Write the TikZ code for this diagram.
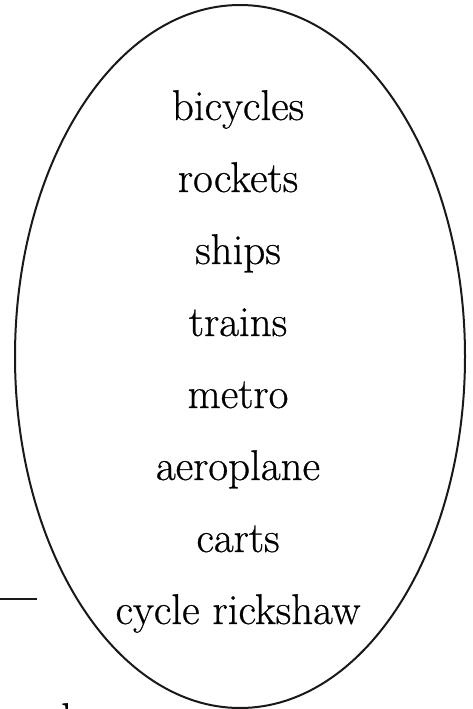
\documentclass[tikz,border=0pt]{standalone}
\usepackage{fontspec}
\newfontfamily\itemfont{Latin Modern Roman}[FakeBold=0.6]
\begin{document}
\begin{tikzpicture}[x=1pt,y=-1pt,
  item/.style={anchor=base,inner sep=0pt,font=\itemfont\fontsize{43}{51}\selectfont},
  outline/.style={draw=black!90,line width=2pt}]
\useasboundingbox (0,0) rectangle (473,709);
\draw[outline] (240,356.5) ellipse [x radius=225, y radius=351.5];
\node[item] (n1) at (238,120) {bicycles};
\node[item] (n2) at (238,192) {rockets};
\node[item] (n3) at (238,264) {ships};
\node[item] (n4) at (238,336) {trains};
\node[item] (n5) at (238,408) {metro};
\node[item] (n6) at (238,480) {aeroplane};
\node[item] (n7) at (238,552) {carts};
\node[item] (n8) at (238,624) {cycle rickshaw};
\coordinate (la) at (0,599);
\coordinate (lb) at (37,599);
\draw[line width=1.5pt,black!90] (la) -- (lb);
\node[item,anchor=base west] (frag) at (61,733) {l};
\end{tikzpicture}
\end{document}
